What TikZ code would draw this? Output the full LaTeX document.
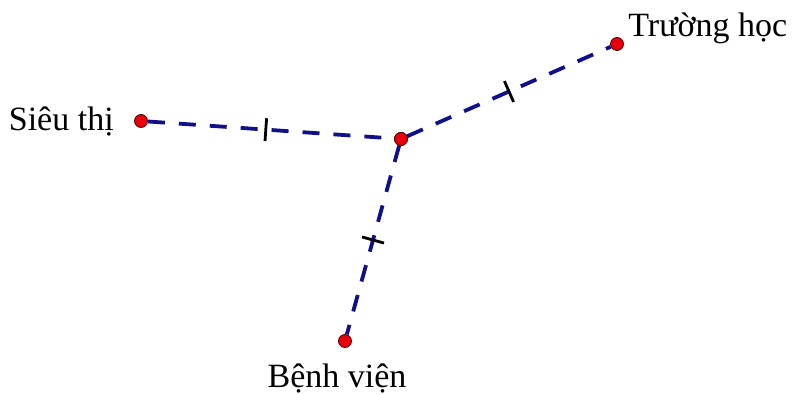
\documentclass[tikz,border=0pt]{standalone}
\usepackage{fontspec}
\setmainfont{Liberation Serif}
\usepackage{tikz}
\usetikzlibrary{arrows.meta,positioning,calc}
\usepackage{xcolor}
\definecolor{road}{HTML}{10108A}
\definecolor{pin}{HTML}{E8000B}

\begin{document}
\begin{tikzpicture}[x=0.5pt,y=-0.5pt,
  lab/.style={font=\fontsize{17}{20}\selectfont,text=black,inner sep=1pt},
  dot/.style={circle,draw=black!70!red,fill=pin,line width=0.4pt,minimum size=6.5pt,inner sep=0pt},
  way/.style={draw=road,line width=1.9pt,dash pattern=on 8.5pt off 7pt},
  tick/.style={draw=black,line width=1.4pt}]
  \useasboundingbox (0,0) rectangle (793,395);
  \node[dot] (o) at (401,139) {};
  \node[dot] (st) at (141,121) {};
  \node[dot] (th) at (617,44) {};
  \node[dot] (bv) at (345,341) {};
  \node[lab,left=9pt of st] (stl) {Siêu thị};
  \node[lab,anchor=south west] (thl) at (626,46) {Trường học};
  \node[lab,below=7pt of bv,xshift=-4pt] (bvl) {Bệnh viện};
  \draw[way] (st) -- (o);
  \draw[way] (o) -- (th);
  \draw[way] (o) -- (bv);
  % equal-length marks
  \coordinate (m1) at ($(st)!0.48!(o)$);
  \coordinate (m2) at ($(o)!0.5!(th)$);
  \coordinate (m3) at ($(o)!0.5!(bv)$);
  \draw[tick] ($(m1)!5.7pt!90:(o)$) -- ($(m1)!5.7pt!-90:(o)$);
  \draw[tick] ($(m2)!5.7pt!90:(th)$) -- ($(m2)!5.7pt!-90:(th)$);
  \draw[tick] ($(m3)!5.7pt!90:(bv)$) -- ($(m3)!5.7pt!-90:(bv)$);
  \node[dot] at (o) {};
\end{tikzpicture}
\end{document}
